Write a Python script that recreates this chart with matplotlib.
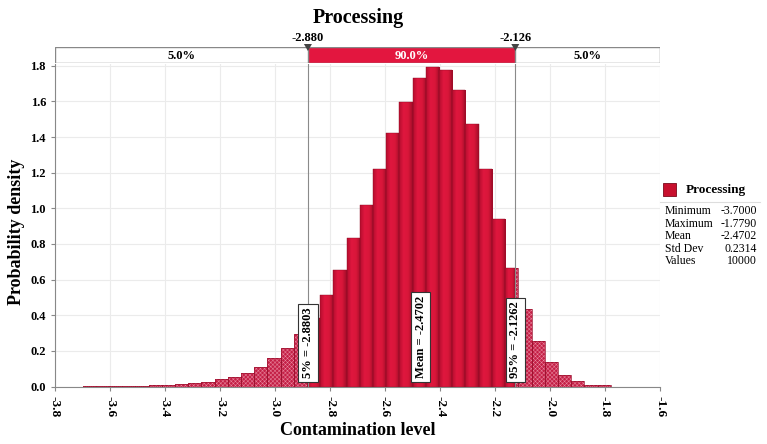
import numpy as np
import matplotlib
matplotlib.use("Agg")
import matplotlib.pyplot as plt
from matplotlib.patches import Rectangle, Polygon
from matplotlib.colors import LinearSegmentedColormap

# ---------------- data ----------------
title = "Processing"
hist_min = -3.7000
hist_max = -1.7790
densities = [0.004, 0.004, 0.002, 0.003, 0.005, 0.007, 0.009, 0.012,
             0.018, 0.027, 0.040, 0.055, 0.078, 0.111, 0.159, 0.215, 0.295,
             0.387, 0.515, 0.655, 0.833, 1.021, 1.223, 1.424, 1.598, 1.729,
             1.793, 1.776, 1.662, 1.471, 1.218, 0.940, 0.665,
             0.436, 0.256, 0.140, 0.065, 0.031, 0.010, 0.008]
p5 = -2.8803
p95 = -2.1262
mean_val = -2.4702
band_labels = ["5.0%", "90.0%", "5.0%"]
marker_labels = ["-2.880", "-2.126"]
stat_names = ["Minimum", "Maximum", "Mean", "Std Dev", "Values"]
stat_values = ["-3.7000", "-1.7790", "-2.4702", "0.2314", "10000"]
x_ticks = [-3.8, -3.6, -3.4, -3.2, -3.0, -2.8, -2.6, -2.4, -2.2, -2.0, -1.8, -1.6]
y_ticks = [0.0, 0.2, 0.4, 0.6, 0.8, 1.0, 1.2, 1.4, 1.6, 1.8]

# ---------------- style ----------------
plt.rcParams['font.family'] = ['Liberation Serif', 'DejaVu Serif']
plt.rcParams['hatch.linewidth'] = 0.35
W, H = 767, 444
fig = plt.figure(figsize=(W / 100, H / 100), dpi=100)
fig.patch.set_facecolor('white')

def fx(px):
    return px / W

def fy(py):
    return 1 - py / H

ax_l, ax_r, ax_t, ax_b = 55, 660, 64, 386.5
ax = fig.add_axes([fx(ax_l), fy(ax_b), fx(ax_r) - fx(ax_l), fy(ax_t) - fy(ax_b)])
ax.set_xlim(x_ticks[0], x_ticks[-1])
ax.set_ylim(0, 1.81)

# gradient colormap for the main bars
cmap = LinearSegmentedColormap.from_list(
    'bar', ['#b50e2e', '#e0173f', '#d81639', '#a00d29'])
grad = np.linspace(0, 1, 64).reshape(1, -1)

edges = np.linspace(hist_min, hist_max, len(densities) + 1)
tail_color = '#c41f46'
for i, h in enumerate(densities):
    l, r = edges[i], edges[i + 1]
    segs = [(l, min(r, p5), 'tail'), (max(l, p5), min(r, p95), 'mid'),
            (max(l, p95), r, 'tail')]
    for a, b, kind in segs:
        if b <= a:
            continue
        if kind == 'mid':
            ax.imshow(grad, extent=[a, b, 0, h], aspect='auto', cmap=cmap,
                      interpolation='bilinear', zorder=2)
            ax.add_patch(Rectangle((a, 0), b - a, h, fill=False,
                                   edgecolor='#8e0b24', lw=0.3, zorder=3))
        else:
            ax.add_patch(Rectangle((a, 0), b - a, h, facecolor=tail_color,
                                   edgecolor='#e8869d', hatch='xxxxxxxx', lw=0,
                                   zorder=2))
            ax.add_patch(Rectangle((a, 0), b - a, h, fill=False,
                                   edgecolor='#9a0f2c', lw=0.5, zorder=3))

ax.set_xlim(x_ticks[0], x_ticks[-1])
ax.set_ylim(0, 1.81)

# grid
ax.set_xticks(x_ticks)
ax.set_yticks(y_ticks)
ax.grid(True, color='#ebebeb', lw=0.8, zorder=0)
ax.set_axisbelow(True)
for s in ['top', 'right']:
    ax.spines[s].set_visible(False)
for s in ['left', 'bottom']:
    ax.spines[s].set_color('#888888')
    ax.spines[s].set_linewidth(0.8)
ax.tick_params(colors='#888888', length=3, width=0.8)
ax.set_xticklabels([f"{v:.1f}" for v in x_ticks], rotation=-90,
                   fontweight='bold', fontsize=9.5, color='black')
ax.set_yticklabels([f"{v:.1f}" for v in y_ticks], fontweight='bold',
                   fontsize=9, color='black')
ax.set_xlabel("Contamination level", fontweight='bold', fontsize=13, labelpad=4)
ax.set_ylabel("Probability density", fontweight='bold', fontsize=13)
ax.yaxis.set_label_coords(-0.05, 0.48)

# percentile lines
for v in (p5, p95):
    ax.axvline(v, color='#8a8a8a', lw=0.8, zorder=4)

# rotated value labels
for v, txt in ((p5, f"5% = {p5:.4f}"), (mean_val, f"Mean = {mean_val:.4f}"),
               (p95, f"95% = {p95:.4f}")):
    ax.text(v, 0.045, txt, rotation=90, ha='center', va='bottom', fontsize=9,
            fontweight='bold', zorder=6,
            bbox=dict(boxstyle='square,pad=0.3', facecolor='white',
                      edgecolor='#333333', lw=0.8))

# band on top
band_t, band_b = 47.5, 63
bx = fig.add_axes([fx(ax_l), fy(band_b), fx(ax_r) - fx(ax_l), fy(band_t) - fy(band_b)])
bx.set_xlim(x_ticks[0], x_ticks[-1])
bx.set_ylim(0, 1)
bx.axis('off')
bx.add_patch(Rectangle((x_ticks[0], 0), x_ticks[-1] - x_ticks[0], 1,
                       facecolor='white', edgecolor='#888888', lw=1.0))
bx.add_patch(Rectangle((p5, 0), p95 - p5, 1, facecolor='#e3163f',
                       edgecolor='#888888', lw=1.0))
bx.text((x_ticks[0] + p5) / 2, 0.45, band_labels[0], ha='center', va='center',
        fontsize=9, fontweight='bold')
bx.text((p5 + p95) / 2, 0.45, band_labels[1], ha='center', va='center',
        fontsize=9, fontweight='bold', color='white')
bx.text((p95 + x_ticks[-1]) / 2, 0.45, band_labels[2], ha='center', va='center',
        fontsize=9, fontweight='bold')

# markers and labels above band
for v, lab in zip((p5, p95), marker_labels):
    xp = ax_l + (v - x_ticks[0]) / (x_ticks[-1] - x_ticks[0]) * (ax_r - ax_l)
    tri = Polygon([[fx(xp - 4), fy(44)], [fx(xp + 4), fy(44)], [fx(xp), fy(51)]],
                  closed=True, transform=fig.transFigure, facecolor='#444444',
                  edgecolor='none', zorder=10)
    fig.patches.append(tri)
    fig.text(fx(xp), fy(38), lab, ha='center', va='center', fontsize=9,
             fontweight='bold')

fig.text(fx(358), fy(18), title, ha='center', va='center', fontsize=14.5,
         fontweight='bold')

# legend / stats
fig.patches.append(Rectangle((fx(663), fy(196.5)), fx(13), 13 / H,
                             transform=fig.transFigure, facecolor='#c8102e',
                             edgecolor='#7a0a1c', lw=0.6))
fig.text(fx(686), fy(189.5), title, ha='left', va='center', fontsize=9.5,
         fontweight='bold')
fig.add_artist(plt.Line2D([fx(660), fx(760)], [fy(202), fy(202)],
                          transform=fig.transFigure, color='#dddddd', lw=0.8))
for k, (n, v) in enumerate(zip(stat_names, stat_values)):
    yy = 211 + k * 12.5
    fig.text(fx(665), fy(yy), n, ha='left', va='center', fontsize=8.5)
    fig.text(fx(757), fy(yy), v, ha='right', va='center', fontsize=8.5)

fig.savefig("out.png", dpi=100, facecolor='white')
